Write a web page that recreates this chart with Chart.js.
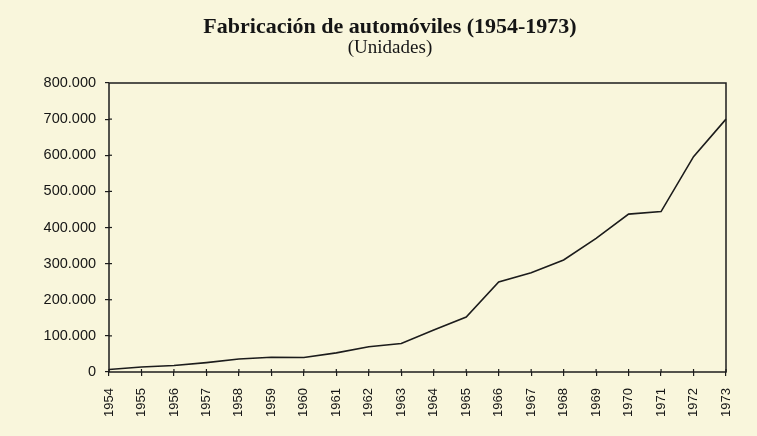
<!DOCTYPE html>
<html>
<head>
<meta charset="utf-8">
<script src="https://cdn.jsdelivr.net/npm/chart.js@4.4.1/dist/chart.umd.min.js"></script>
<style>
  html, body { margin: 0; padding: 0; background: #f9f6dc; }
  #wrap { width: 757px; height: 436px; }
</style>
</head>
<body>
<div id="wrap"><canvas id="chart"></canvas></div>
<script>
// years on the x axis
var years = ['1954', '1955', '1956', '1957', '1958', '1959', '1960', '1961', '1962', '1963',
             '1964', '1965', '1966', '1967', '1968', '1969', '1970', '1971', '1972', '1973'];
// cars built per year (units)
var units = [7000, 14000, 18000, 26000, 36000, 41000, 40000, 53000, 70000, 79000,
             116000, 152000, 249000, 275000, 310000, 370000, 437000, 444000, 596000, 700000];
var yTicks = [0, 100000, 200000, 300000, 400000, 500000, 600000, 700000, 800000];

var ink = '#1c1c1c';

// frame round the plot and small inward tick marks
var frame = {
    id: 'frame',
    afterDraw: function(chart) {
        var ctx = chart.ctx;
        var a = chart.chartArea;
        ctx.save();
        ctx.strokeStyle = ink;
        ctx.lineWidth = 1.5;
        ctx.strokeRect(a.left, a.top, a.right - a.left, a.bottom - a.top);
        ctx.lineWidth = 1.2;
        var xs = chart.scales.x;
        for (var i = 0; i < xs.ticks.length; i++) {
            var px = xs.getPixelForTick(i);
            ctx.beginPath();
            ctx.moveTo(px, a.bottom);
            ctx.lineTo(px, a.bottom - 3);
            ctx.stroke();
        }
        var ys = chart.scales.y;
        for (var j = 1; j < ys.ticks.length - 1; j++) {
            var py = ys.getPixelForTick(j);
            ctx.beginPath();
            ctx.moveTo(a.left, py);
            ctx.lineTo(a.left + 3, py);
            ctx.stroke();
        }
        ctx.restore();
    }
};

new Chart(document.getElementById('chart'), {
    type: 'line',
    data: {
        labels: years,
        datasets: [{
            data: units,
            borderColor: ink,
            borderWidth: 1.6,
            pointRadius: 0,
            tension: 0,
            fill: false
        }]
    },
    options: {
        responsive: true,
        maintainAspectRatio: false,
        animation: false,
        // left padding shifts the centred title to where the scan has it
        layout: { padding: { left: 54, right: 31, top: 0, bottom: 0 } },
        plugins: {
            legend: { display: false },
            tooltip: { enabled: false },
            title: {
                display: true,
                text: 'Fabricación de automóviles (1954-1973)',
                color: '#151515',
                font: { family: '"Liberation Serif", serif', size: 22, weight: 'bold', lineHeight: 1 },
                padding: { top: 16.5, bottom: 0 }
            },
            subtitle: {
                display: true,
                text: '(Unidades)',
                color: '#151515',
                font: { family: '"Liberation Serif", serif', size: 19, lineHeight: 1 },
                padding: { top: 0.5, bottom: 25 }
            }
        },
        scales: {
            x: {
                offset: false,
                grid: { display: true, drawOnChartArea: false, color: ink, lineWidth: 1.2, tickLength: 4 },
                border: { display: false },
                ticks: {
                    color: '#151515',
                    font: { family: '"Liberation Sans", Arial, sans-serif', size: 13 },
                    minRotation: 90,
                    maxRotation: 90,
                    autoSkip: false,
                    padding: 12
                },
                afterFit: function(scale) { scale.height = 64; }
            },
            y: {
                min: 0,
                max: 800000,
                afterBuildTicks: function(scale) {
                    scale.ticks = yTicks.map(function(v) { return { value: v }; });
                },
                grid: { display: true, drawOnChartArea: false, color: ink, lineWidth: 1.2, tickLength: 4 },
                border: { display: false },
                // mirrored so the labels are not clipped to the narrow axis box;
                // negative padding puts them back outside, right-aligned
                ticks: {
                    color: '#151515',
                    font: { family: '"Liberation Sans", Arial, sans-serif', size: 14.5 },
                    mirror: true,
                    crossAlign: 'far',
                    padding: -65.4,
                    callback: function(v) { return v.toLocaleString('de-DE'); }
                },
                afterFit: function(scale) { scale.width = 55; }
            }
        }
    },
    plugins: [frame]
});
</script>
</body>
</html>
